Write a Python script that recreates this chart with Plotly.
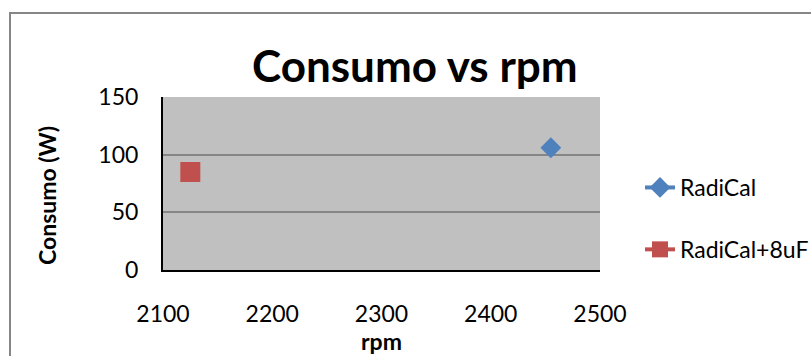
import plotly.graph_objects as go

# Measured consumption against shaft speed
series_names = ["RadiCal", "RadiCal+8uF"]
rpm_values = [[2455], [2125]]
consumo_values = [[106], [85]]
series_colors = ["#4F81BD", "#C0504D"]
series_symbols = ["diamond", "square"]
series_sizes = [16, 20]

x_ticks = [2100, 2200, 2300, 2400, 2500]
y_ticks = [0, 50, 100, 150]

FONT = "Lato"

fig = go.Figure()
for i, name in enumerate(series_names):
    fig.add_trace(go.Scatter(
        x=rpm_values[i], y=consumo_values[i], name=name,
        mode="lines+markers", legendgroup=name,
        line=dict(color=series_colors[i], width=4),
        marker=dict(symbol=series_symbols[i], size=series_sizes[i],
                    color=series_colors[i], line=dict(width=0)),
    ))

# plot area in pixels: x 163..600, y 97..270
L, R, T, B = 163, 211, 97, 86
W, H = 811, 356
pw, ph = W - L - R, H - T - B

def px(x):
    return (x - L) / pw

def py(y):
    return (H - B - y) / ph

fig.update_layout(
    width=W, height=H,
    margin=dict(l=L, r=R, t=T, b=B, autoexpand=False),
    paper_bgcolor="white", plot_bgcolor="#C0C0C0",
    font=dict(family=FONT, color="black", size=23),
    showlegend=True,
    legend=dict(x=px(640), xanchor="left", y=py(166), yanchor="top",
                font=dict(size=23, family=FONT), tracegroupgap=29,
                bgcolor="rgba(0,0,0,0)", itemwidth=30),
    xaxis=dict(range=[2100, 2500], tickvals=x_ticks, showgrid=False,
               showline=True, linecolor="black", linewidth=2,
               ticks="outside", ticklen=22, tickcolor="rgba(0,0,0,0)",
               zeroline=False, tickfont=dict(size=23, family=FONT)),
    yaxis=dict(range=[0, 150], tickvals=y_ticks, showgrid=True,
               gridcolor="#868686", gridwidth=2,
               showline=True, linecolor="black", linewidth=2,
               ticks="outside", ticklen=18, tickcolor="rgba(0,0,0,0)",
               zeroline=False, tickfont=dict(size=23, family=FONT)),
    annotations=[
        dict(text="<b>Consumo vs rpm</b>", xref="paper", yref="paper",
             x=px(415), y=py(65), xanchor="center", yanchor="middle",
             showarrow=False, font=dict(size=44, family=FONT)),
        dict(text="<b>rpm</b>", xref="paper", yref="paper",
             x=px(381), y=py(341), xanchor="center", yanchor="middle",
             showarrow=False, font=dict(size=23, family=FONT)),
        dict(text="<b>Consumo (W)</b>", xref="paper", yref="paper",
             x=px(47), y=py(196), xanchor="center", yanchor="middle",
             textangle=-90, showarrow=False, font=dict(size=23, family=FONT)),
    ],
    shapes=[
        dict(type="rect", xref="paper", yref="paper",
             x0=px(10), x1=px(820), y0=py(13), y1=py(370),
             line=dict(color="#868686", width=2), fillcolor="rgba(0,0,0,0)",
             layer="below"),
    ],
)

fig.write_html("out.html")
